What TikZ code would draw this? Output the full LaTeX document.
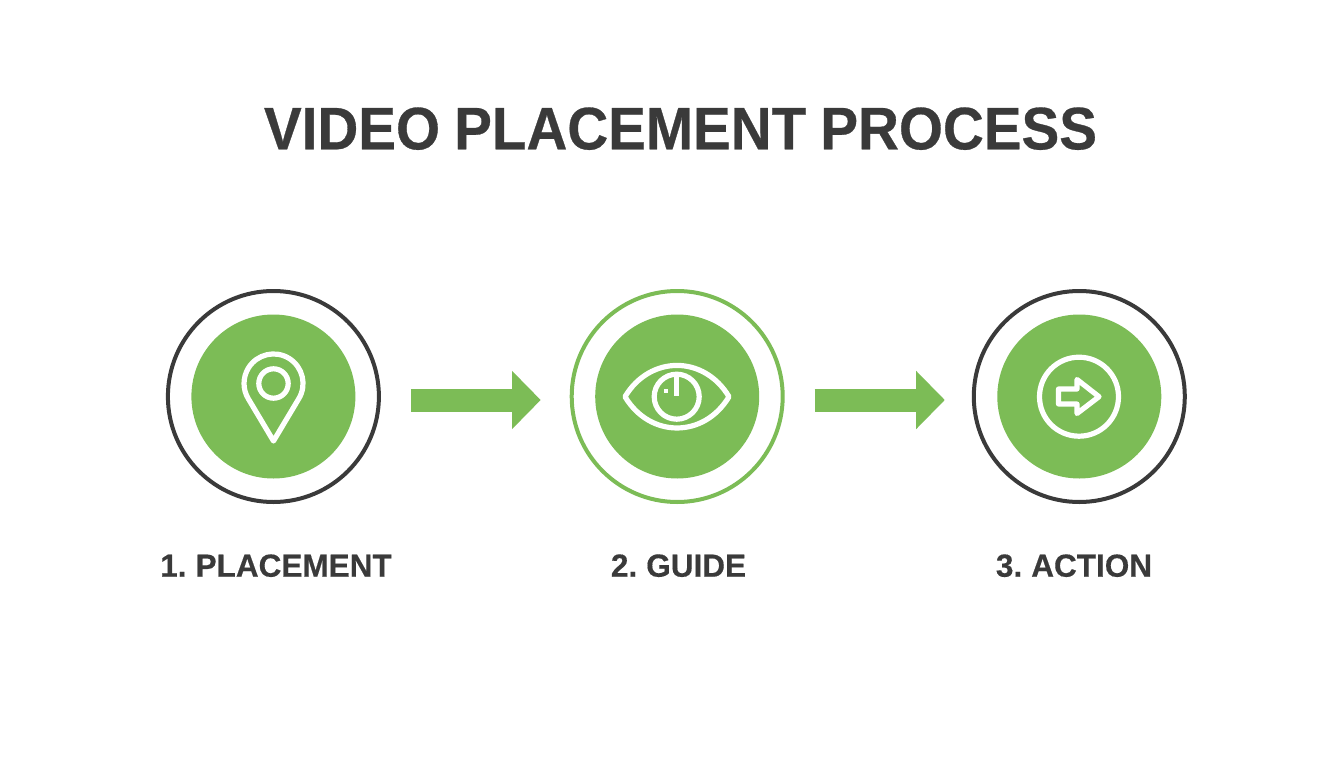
\documentclass[tikz,border=0pt]{standalone}
\usepackage{fontspec}
\setmainfont{Liberation Sans}
\newfontfamily\headfont[FakeStretch=0.943,FakeBold=0.5,WordSpace=0.9]{Liberation Sans Bold}
\newfontfamily\stepfont[FakeStretch=0.985,FakeBold=0.4,WordSpace=0.7]{Liberation Sans Bold}
\usetikzlibrary{arrows.meta}
\definecolor{leaf}{HTML}{7CBC56}
\definecolor{ink}{HTML}{3A3A3A}
\tikzset{
	disc/.style={shape=circle,fill=leaf,minimum size=164pt,inner sep=0pt},
	ring/.style={shape=circle,draw=#1,line width=4pt,minimum size=211pt,inner sep=0pt},
	icon/.style={draw=white,line width=5.2pt,line join=round},
	flow/.style={draw=leaf,line width=23pt,-{Triangle[width=56.6pt,length=28.7pt]},shorten <=30pt,shorten >=#1},
	label/.style={text=ink,anchor=base,font=\stepfont\fontsize{32}{36}\selectfont}
}
\begin{document}
\begin{tikzpicture}[x=1pt,y=1pt]
\useasboundingbox (0,0) rectangle (1344,-768);
\node[text=ink,anchor=base,font=\headfont\fontsize{60}{66}\selectfont,name=title] at (680.5,-149.3){VIDEO PLACEMENT PROCESS};
\foreach \x \y \z \c \t in {1/273.4/276/ink/1. PLACEMENT,2/677.2/678.5/leaf/2. GUIDE,3/1079.3/1074/ink/3. ACTION}{
	\node[ring=\c,name=r\x] at (\y,-396.5){};
	\node[disc,name=d\x] at (\y,-396.5){};
	\node[label,name=t\x] at (\z,-576.7){\t};
};
\foreach \x \y \s in {1/2/29pt,2/3/27pt}{
	\draw[flow=\s] ([yshift=-3.5pt]r\x.east)--([yshift=-3.5pt]r\y.west);
};
% pin
\draw[icon] (273.5,-441)--(298.6,-399)arc[start angle=-31.8,end angle=211.8,radius=29.5]--cycle;
\draw[icon] (273.5,-383.5) circle (14.7);
% eye
\draw[icon] (625,-396.7).. controls (650,-355) and (704,-355) .. (729,-396.7).. controls (704,-438.4) and (650,-438.4) .. cycle;
\draw[icon] (676.7,-396.7) circle (22.5);
\draw[draw=white,line width=4.5pt] (676.7,-375)--(676.7,-396);
\fill[white] (664,-388.7) rectangle (668,-392.7);
% action
\draw[icon] (1079,-396.7) circle (39.5);
\draw[icon] (1058.5,-389)--(1077,-389)--(1077,-379.5)--(1099,-396.7)--(1077,-413.5)--(1077,-404)--(1058.5,-404)--cycle;
\end{tikzpicture}
\end{document}
